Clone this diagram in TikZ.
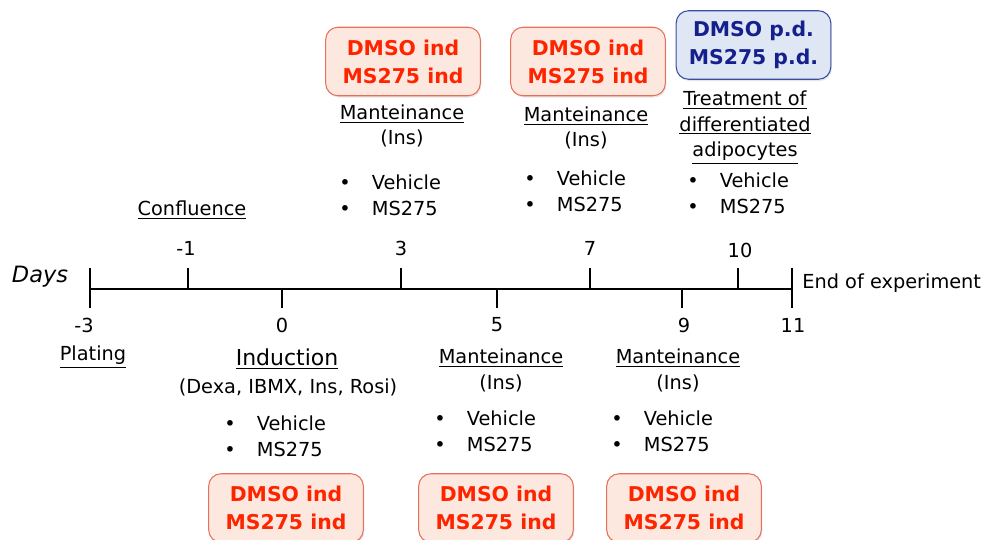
\documentclass[tikz,border=0pt]{standalone}
\usepackage{fontspec}
\setmainfont{DejaVu Sans}
\usetikzlibrary{shadows}
\definecolor{indfill}{RGB}{252,232,222}
\definecolor{indline}{RGB}{232,112,90}
\definecolor{indred}{RGB}{255,36,0}
\definecolor{pdfill}{RGB}{222,231,243}
\definecolor{pdline}{RGB}{58,78,160}
\definecolor{pdblue}{RGB}{22,32,140}
\newcommand{\treatlist}{\begin{tabular}{@{}l@{\hspace{12pt}}l@{}}\textbullet & Vehicle\\ \textbullet & MS275\end{tabular}}
\begin{document}
\begin{tikzpicture}[x=0.02cm, y=-0.02cm]
\useasboundingbox (0,0) rectangle (986,540);
\tikzstyle{txt} = [inner sep=0pt, align=center, font=\fontsize{11}{14.7}\selectfont]
\tikzstyle{indbox} = [draw=indline, fill=indfill, text=indred, rounded corners=7pt, semithick,
  minimum width=88pt, minimum height=39pt, align=center, font=\fontsize{11.6}{15.9}\selectfont\bfseries,
  drop shadow={opacity=0.2, shadow xshift=0.6pt, shadow yshift=-1pt}]
\tikzstyle{pdbox} = [indbox, draw=pdline, fill=pdfill, text=pdblue]
% boxes
\node[indbox] (ind3) at (403,61.5) {DMSO ind\\MS275 ind};
\node[indbox] (ind7) at (588,61.5) {DMSO ind\\MS275 ind};
\node[pdbox] (pd10) at (753.5,45) {DMSO p.d.\\MS275 p.d.};
\node[indbox] (ind0) at (286,508) {DMSO ind\\MS275 ind};
\node[indbox] (ind5) at (496,508) {DMSO ind\\MS275 ind};
\node[indbox] (ind9) at (684,508) {DMSO ind\\MS275 ind};
% timeline
\coordinate (start) at (90,289);
\coordinate (end) at (792,289);
\draw[line width=1.6pt] (start) -- (end);
\draw[line width=1.6pt] (90,268) -- (90,308);
\draw[line width=1.6pt] (792,268) -- (792,308);
\foreach \x/\d in {188/m1,401/3,590/7,738/10}
  \draw[line width=1.6pt] (\x,268) -- (\x,289);
\foreach \x/\d in {282/0,497/5,682/9}
  \draw[line width=1.6pt] (\x,289) -- (\x,308);
\node[txt, font=\fontsize{12.8}{15}\selectfont\itshape] (days) at (40,277) {Days};
\node[txt, anchor=west] (endexp) at (802,283) {End of experiment};
% day numbers
\node[txt] (nm1) at (186,248) {-1};
\node[txt] (n3) at (401,248) {3};
\node[txt] (n7) at (590,248) {7};
\node[txt] (n10) at (740,250) {10};
\node[txt] (nm3) at (84,325) {-3};
\node[txt] (n0) at (282,325) {0};
\node[txt] (n5) at (497,325) {5};
\node[txt] (n9) at (684,325) {9};
\node[txt] (n11) at (793,325) {11};
% stages
\node[txt] (confl) at (192,210) {\underline{Confluence}};
\node[txt] (plat) at (93,357) {\underline{Plating}};
\node[txt, font=\fontsize{12.5}{15}\selectfont] (induc) at (287,359) {\underline{Induction}};
\node[txt] (induc2) at (288,387) {(Dexa, IBMX, Ins, Rosi)};
\node[txt] (mant3) at (402,126) {\underline{Manteinance}\\(Ins)};
\node[txt] (mant7) at (586,128) {\underline{Manteinance}\\(Ins)};
\node[txt] (treat) at (745,127.5) {\underline{Treatment of}\\\underline{differentiated}\\\underline{adipocytes}};
\node[txt] (mant5) at (501,370.5) {\underline{Manteinance}\\(Ins)};
\node[txt] (mant9) at (678,370.5) {\underline{Manteinance}\\(Ins)};
% treatments
\node[txt, anchor=west] (list3) at (339,197) {\treatlist};
\node[txt, anchor=west] (list7) at (524,193) {\treatlist};
\node[txt, anchor=west] (list10) at (687,195.5) {\treatlist};
\node[txt, anchor=west] (list0) at (224,438.5) {\treatlist};
\node[txt, anchor=west] (list5) at (434,433) {\treatlist};
\node[txt, anchor=west] (list9) at (611,433) {\treatlist};
\end{tikzpicture}
\end{document}
